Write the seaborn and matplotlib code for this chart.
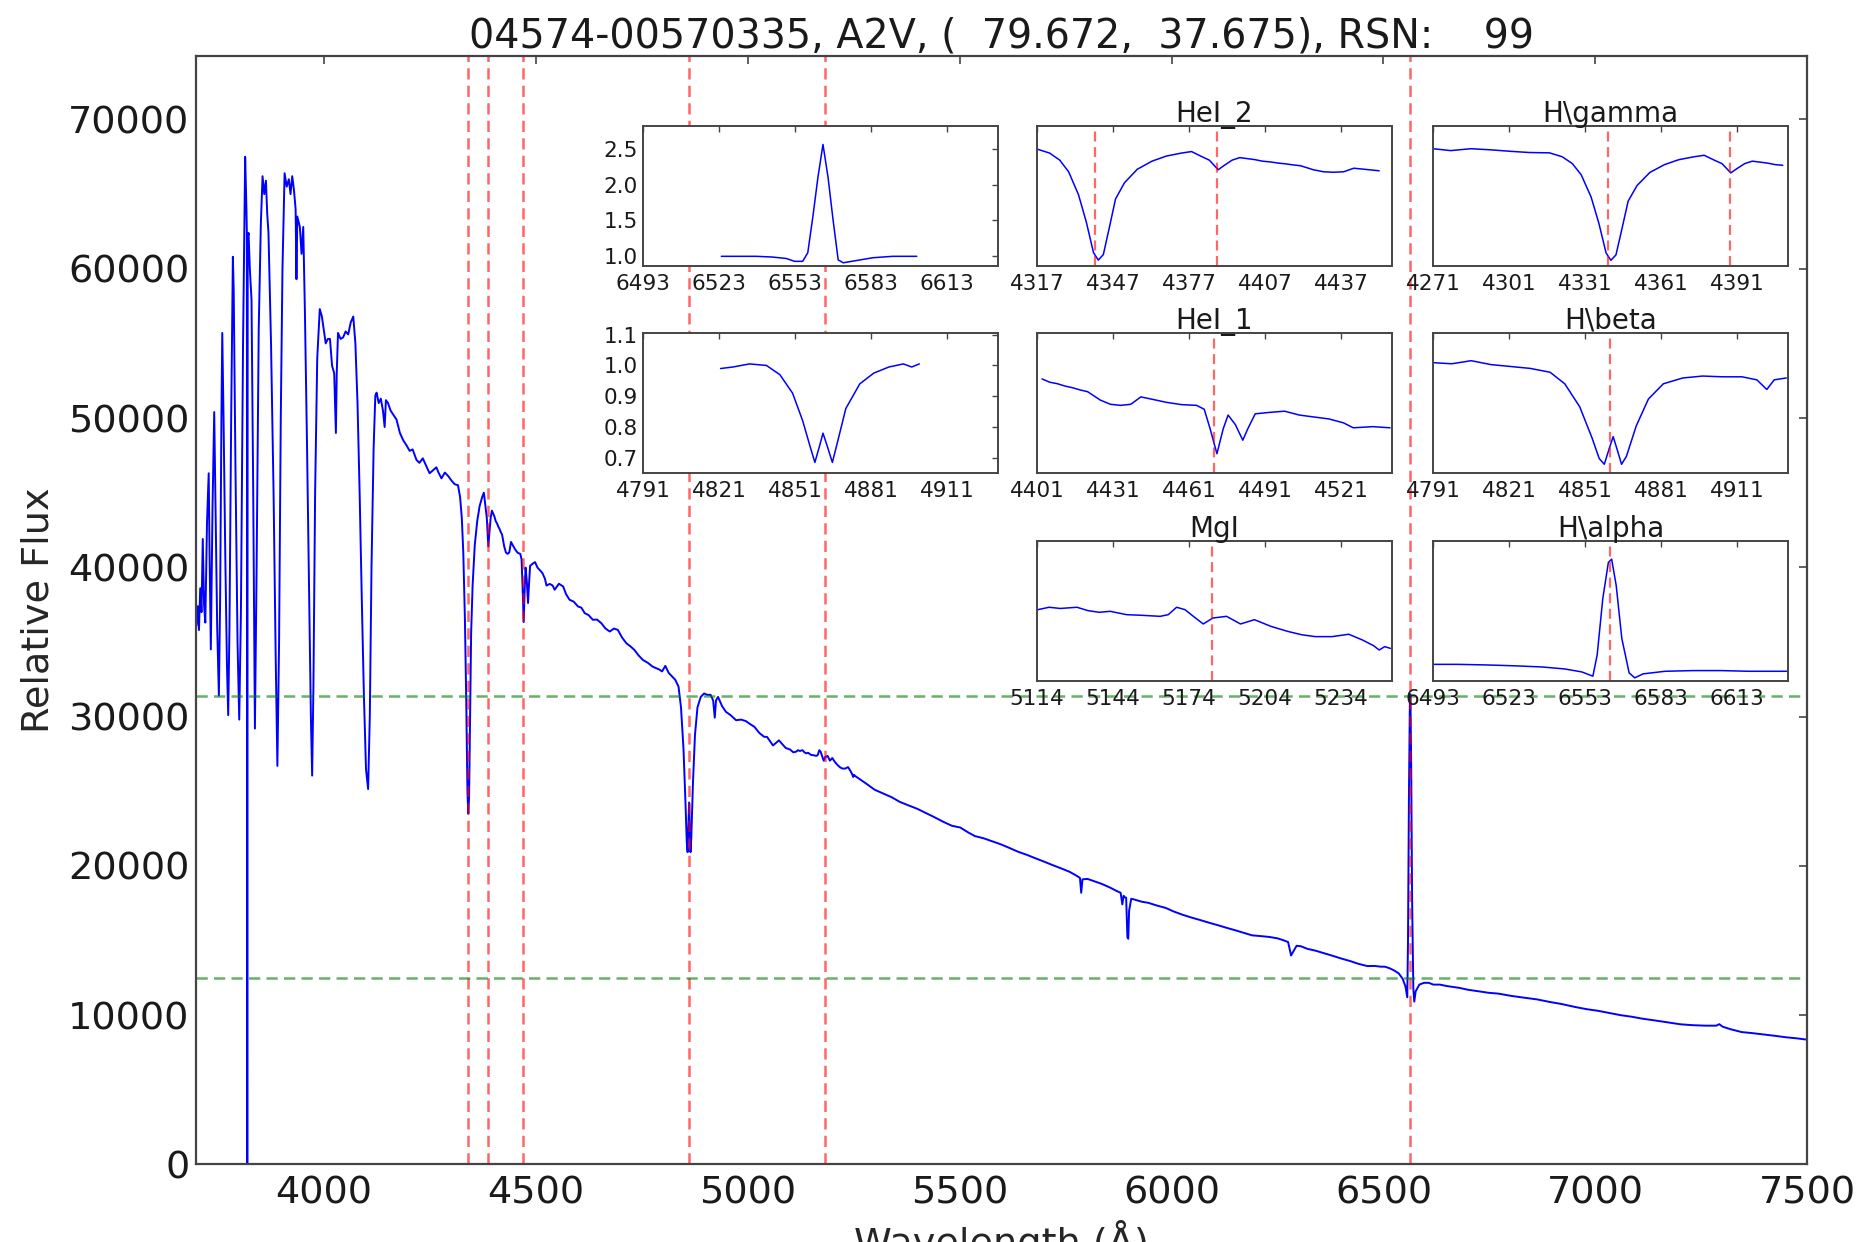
import numpy as np
import seaborn as sns
import matplotlib
matplotlib.use("Agg")
import matplotlib.pyplot as plt

# --- spectrum (wavelength in A, flux in counts) ---
wave = [
    3700, 3703, 3706, 3709, 3712, 3715, 3718, 3721, 3725, 3729, 3731, 3734, 3738, 3742, 3745, 3749,
    3753, 3756, 3759, 3761, 3764, 3768, 3772, 3775, 3778, 3782, 3786, 3788, 3792, 3797, 3801, 3805,
    3810, 3815, 3818, 3819, 3820, 3821, 3823, 3826, 3830, 3834, 3838, 3842, 3847, 3852, 3856, 3860,
    3864, 3867, 3870, 3876, 3882, 3887, 3891, 3895, 3899, 3903, 3908, 3913, 3918, 3922, 3926, 3930,
    3934, 3936, 3938, 3944, 3948, 3952, 3956, 3961, 3966, 3970, 3973, 3976, 3980, 3985, 3991, 3996,
    4000, 4005, 4010, 4015, 4020, 4025, 4029, 4031, 4034, 4040, 4046, 4052, 4058, 4064, 4070, 4075,
    4080, 4085, 4090, 4095, 4100, 4105, 4109, 4113, 4118, 4122, 4125, 4130, 4135, 4140, 4144, 4147,
    4152, 4158, 4165, 4172, 4180, 4188, 4195, 4203, 4210, 4219, 4226, 4234, 4242, 4250, 4258, 4266,
    4271, 4278, 4286, 4294, 4302, 4309, 4317, 4322, 4326, 4329.5, 4333.4, 4336.5, 4339.3, 4341.2,
    4343.2, 4345.5, 4348, 4351.5, 4356.6, 4362.4, 4368, 4374, 4378, 4382, 4385, 4388.5, 4391, 4394,
    4397, 4403, 4406, 4409, 4412, 4415, 4418, 4421, 4426, 4430, 4434, 4438, 4442, 4446, 4452, 4458,
    4464, 4467, 4469.3, 4472, 4474.5, 4476.4, 4479.3, 4482.2, 4484.2, 4487.1, 4492.9, 4498.7, 4504.5,
    4510.3, 4516.1, 4521.9, 4525.8, 4533.5, 4540.3, 4545, 4555, 4565, 4572, 4580, 4590, 4600, 4608,
    4616, 4625, 4635, 4645, 4655, 4665, 4675, 4685, 4694, 4704, 4714, 4724, 4733, 4743, 4753, 4765,
    4776, 4791, 4798.4, 4806.1, 4813.9, 4821.7, 4829.4, 4837.2, 4843, 4848.9, 4853.7, 4856.6, 4858.6,
    4860.5, 4862.1, 4863.6, 4865.4, 4867.3, 4871.2, 4876, 4881.9, 4889.6, 4897.4, 4905.2, 4912.9,
    4918.8, 4922.7, 4925.6, 4930.4, 4940, 4949, 4960, 4973, 4985, 4996, 5006, 5016, 5028, 5039, 5046,
    5060, 5074, 5090, 5100, 5108,
    5114.4, 5118.8, 5123.2, 5129.8, 5134.1, 5138.5, 5142.9, 5149.4, 5156, 5162.6, 5165.8, 5169.1,
    5172.4, 5175.7, 5179.6, 5183.4, 5188.8, 5194.3, 5199.8, 5206.3, 5212.9, 5218.4, 5223.8, 5230.4,
    5237, 5242.4, 5246.8, 5249, 5251.2, 5253.4,
    5278, 5300, 5319, 5340, 5359, 5380, 5400, 5420, 5441, 5462, 5482, 5502, 5520, 5536, 5557, 5577,
    5597, 5618, 5638, 5659, 5680, 5700, 5720, 5741, 5760, 5775, 5784, 5787, 5790, 5802, 5820, 5836,
    5855, 5870, 5880, 5884, 5887, 5890, 5893, 5896, 5898, 5900, 5905, 5911, 5930, 5945, 5965, 5986,
    6005, 6026, 6046, 6067, 6088, 6108, 6128, 6149, 6170, 6190, 6210, 6231, 6250, 6265, 6275, 6282,
    6288, 6295, 6305, 6320, 6340, 6360, 6380, 6400, 6421, 6440, 6462, 6480,
    6493, 6503, 6514, 6525, 6536, 6545, 6551.7, 6556.1, 6557.8, 6560, 6562.2, 6563.5, 6565.3,
    6567.5, 6570.4, 6572.6, 6575.9, 6584.6, 6595.6, 6606.6, 6617.6, 6633,
    6650, 6679, 6700, 6725, 6748, 6770, 6800, 6830, 6862, 6890, 6920, 6953, 6980, 7005, 7031, 7060,
    7085, 7110, 7140, 7170, 7201, 7230, 7260, 7285, 7292, 7300, 7320, 7345, 7370, 7400, 7423, 7450,
    7475, 7500,
]
flux = [
    36100, 37400, 35800, 38600, 37000, 41900, 37500, 36300, 43000, 46300, 41000, 34500, 44000, 50400, 44000, 36000,
    31400, 38000, 50000, 55700, 50000, 41000, 33500, 30100, 36000, 50000, 60800, 58500, 47000, 35000, 29800, 37000,
    55000, 67500, 64000, 62400, 0, 62000, 62400, 60000, 57900, 45000, 29200, 40000, 56000, 63000, 66200, 65000,
    65900, 63700, 62400, 55000, 45000, 34000, 26700, 35000, 50000, 60000, 66400, 65500, 66000, 65000, 66200, 65300,
    64000, 59300, 63500, 62800, 61000, 62800, 57000, 48000, 38000, 30000, 26050, 32000, 45000, 54000, 57300, 56800,
    56000, 55000, 55300, 55300, 53500, 53000, 49000, 53000, 55700, 55300, 55400, 55800, 55600, 56400, 56800, 55000,
    51000, 45000, 38000, 31500, 26500, 25150, 30000, 40000, 48000, 51500, 51700, 51000, 51300, 50500, 49400, 51200,
    51000, 50500, 50200, 49900, 49000, 48500, 48200, 47800, 47900, 47200, 47000, 47300, 46800, 46300, 46500, 46700,
    46350, 45960, 46350, 46110, 45800, 45570, 45500, 44700, 43300, 41000, 36450, 31000, 25000, 23500,
    24600, 29800, 35600, 38800, 41500, 43100, 44100, 44700, 45000, 44000, 43300, 41400, 42300, 43300,
    43800, 43400, 43090, 42950, 42730, 42570, 42360, 42190, 41400, 41000, 40900, 41000, 41700, 41500, 41190, 40970,
    40900, 40530, 38700, 36330, 38700, 39985, 39070, 37610, 38700, 40100, 40240, 40350, 39985,
    39800, 39620, 39250, 38780, 38890, 38780, 38500, 38900, 38720, 38200, 37830, 37700, 37380, 37300,
    36930, 36800, 36490, 36500, 36260, 35900, 35700, 35900, 35810, 35300, 34920, 34700, 34470, 34100, 33800, 33600,
    33350, 33165, 33030, 33400, 32930, 32700, 32470, 32010, 30620, 27850, 24150, 21610, 20920,
    22770, 24250, 22770, 20920, 21850, 25540, 28780, 30620, 31320, 31550, 31460, 31460,
    31090, 29930, 31090, 31320, 30700, 30320, 30100, 29760, 29800, 29700, 29500, 29320, 28900, 28650, 28640,
    28070, 28410, 27900, 27800, 27610,
    27650, 27750, 27700, 27750, 27610, 27540, 27580, 27440, 27410, 27370, 27440, 27750,
    27650, 27370, 27050, 27300, 27370, 27050, 27230, 26950, 26740, 26600, 26520, 26520,
    26620, 26380, 26140, 25960, 26100, 26030,
    25550, 25100, 24860, 24600, 24290, 24050, 23830, 23550, 23260, 22950, 22690, 22570, 22250, 22000, 21850, 21650,
    21450, 21200, 20950, 20740, 20500, 20280, 20050, 19820, 19600, 19360, 19200, 18200, 19100, 19130, 18950, 18790,
    18550, 18330, 18200, 17420, 18000, 17900, 17870, 15200, 15120, 17000, 17800, 17760, 17600, 17530, 17350, 17190,
    16950, 16730, 16550, 16380, 16200, 16040, 15870, 15700, 15520, 15350, 15300, 15240, 15150, 15010, 14900, 14000,
    14300, 14650, 14620, 14450, 14320, 14150, 13980, 13800, 13630, 13450, 13290, 13300,
    13250, 13250, 13150, 13000, 12800, 12450, 11940, 11200, 14910, 24640, 30930, 31500, 26930,
    17770, 11770, 10910, 11600, 12050, 12170, 12170, 12050, 12050,
    11950, 11830, 11700, 11600, 11500, 11450, 11300, 11180, 11060, 10900, 10750, 10545, 10400, 10300, 10160, 10000,
    9900, 9770, 9650, 9520, 9390, 9330, 9300, 9300, 9400, 9230, 9050, 8870, 8800, 8700, 8620, 8520,
    8450, 8360,
]

# normalised profiles shown in the left column of insets
ha_norm_wave = [6523.9, 6531, 6537.7, 6544, 6549.5, 6552.8, 6556, 6558, 6560, 6562, 6564, 6566,
                6568, 6570, 6572, 6577, 6583.6, 6591.5, 6601]
ha_norm_flux = [1.0, 1.0, 1.0, 0.99, 0.97, 0.93, 0.93, 1.05, 1.55, 2.1, 2.56, 2.1,
                1.5, 0.95, 0.91, 0.94, 0.98, 1.0, 1.0]
hb_norm_wave = [4821.6, 4826.5, 4833, 4839.7, 4845, 4850, 4854, 4856.8, 4858.8, 4860.7, 4862,
                4863.6, 4865.7, 4868, 4871, 4876.5, 4882, 4888, 4893.7, 4897, 4900]
hb_norm_flux = [0.99, 0.995, 1.005, 1.0, 0.97, 0.91, 0.82, 0.74, 0.685, 0.74, 0.78,
                0.74, 0.685, 0.76, 0.86, 0.94, 0.975, 0.995, 1.005, 0.995, 1.005]

# line markers and levels
line_centres = [4340, 4388, 4471, 4861, 5183, 6563]
green_levels = [31350, 12490]

inset_names = ["HeI_2", "H\\gamma", "HeI_1", "H\\beta", "MgI", "H\\alpha"]
inset_centres = [4387, 4341, 4471, 4861, 5184, 6563]

title = "04574-00570335, A2V, (  79.672,  37.675), RSN:    99"

# --- style ---
sns.set_style("white")
plt.rcParams['font.family'] = ['DejaVu Sans']
plt.rcParams['text.color'] = '#1a1a1a'
plt.rcParams['xtick.color'] = '#444444'
plt.rcParams['ytick.color'] = '#444444'
plt.rcParams['xtick.labelcolor'] = '#1a1a1a'
plt.rcParams['ytick.labelcolor'] = '#1a1a1a'

wave = np.array(wave)
flux = np.array(flux)
dash = (0, (4.5, 2.5))

fig = plt.figure(figsize=(18.67, 12.42), dpi=100)
ax = fig.add_axes([0.1052, 0.0624, 0.8629, 0.8925])

sns.lineplot(x=wave, y=flux, ax=ax, color='#0000ff', lw=1.4, estimator=None, sort=False)
for lc in line_centres:
    ax.axvline(lc, color='red', alpha=0.6, lw=1.8, ls=dash)
for gl in green_levels:
    ax.axhline(gl, color='green', alpha=0.6, lw=1.8, ls=dash)

ax.set_xlim(3700, 7500)
ax.set_ylim(0, flux.max() * 1.1)
ax.set_xticks(np.arange(4000, 7501, 500))
ax.set_yticks(np.arange(0, 70001, 10000))
ax.tick_params(direction='in', top=True, right=True, length=6, width=1.2, labelsize=27.5)
ax.tick_params(axis='x', pad=8)
ax.tick_params(axis='y', pad=5)
for s in ax.spines.values():
    s.set_color('#444444')
    s.set_linewidth(1.6)
ax.set_title(title, fontsize=28.5, pad=6)
ax.set_ylabel("Relative Flux", fontsize=27.5, labelpad=8)
ax.set_xlabel("Wavelength (\u00c5)", fontsize=27.5, labelpad=6)

# --- insets ---
col_x = [0.3444, 0.5554, 0.7675]
row_y = [0.7858, 0.6192, 0.4517]
w_in, h_in = 0.1901, 0.1127


def make_inset(rect, wv, fl, centre, name=None, marks=None, show_y=False):
    a = fig.add_axes(rect)
    wv = np.asarray(wv)
    fl = np.asarray(fl)
    m = (wv >= centre - 70) & (wv <= centre + 70)
    sns.lineplot(x=wv[m], y=fl[m], ax=a, color='#0000ff', lw=1.1, estimator=None, sort=False)
    a.set_xlim(centre - 70, centre + 70)
    a.set_ylim(fl[m].min() * 0.95, fl[m].max() * 1.1)
    a.set_xticks(np.arange(centre - 70, centre + 70, 30))
    if marks:
        for lc in marks:
            if centre - 70 <= lc <= centre + 70:
                a.axvline(lc, color='red', alpha=0.6, lw=1.6, ls=dash)
    a.tick_params(direction='in', top=True, right=True, length=4, width=1, labelsize=15.5)
    a.tick_params(axis='x', pad=6)
    a.tick_params(axis='y', pad=4)
    if not show_y:
        a.set_yticks([])
    for s in a.spines.values():
        s.set_color('#444444')
        s.set_linewidth(1.4)
    if name:
        a.set_title(name, fontsize=20, pad=3)
    a.set_xlabel('')
    a.set_ylabel('')
    return a


a1 = make_inset([col_x[0], row_y[0], w_in, h_in], ha_norm_wave, ha_norm_flux, 6563, show_y=True)
a1.set_yticks([1.0, 1.5, 2.0, 2.5])
a2 = make_inset([col_x[0], row_y[1], w_in, h_in], hb_norm_wave, hb_norm_flux, 4861, show_y=True)
a2.set_yticks([0.7, 0.8, 0.9, 1.0, 1.1])

slots = [(1, 0), (2, 0), (1, 1), (2, 1), (1, 2), (2, 2)]
for (c, r), nm, cen in zip(slots, inset_names, inset_centres):
    make_inset([col_x[c], row_y[r], w_in, h_in], wave, flux, cen, name=nm, marks=line_centres)

fig.savefig("out.png", dpi=100)
